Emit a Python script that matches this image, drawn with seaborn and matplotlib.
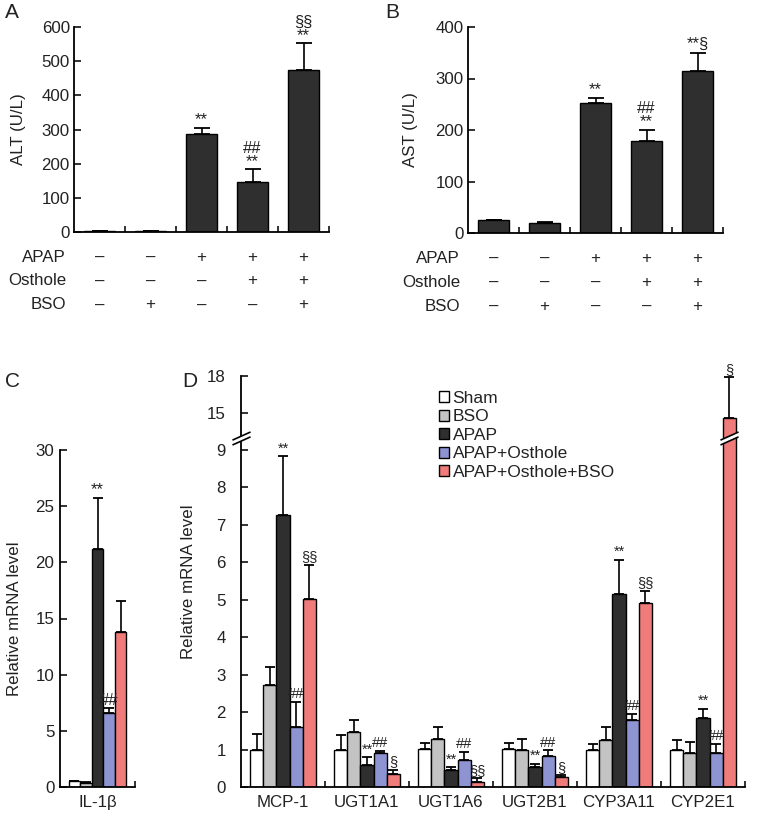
import numpy as np
import pandas as pd
import matplotlib
matplotlib.use("Agg")
import matplotlib.pyplot as plt
import seaborn as sns
from matplotlib.path import Path
from matplotlib.transforms import blended_transform_factory

# ---- data ----
groups = ["Sham", "BSO", "APAP", "APAP+Osthole", "APAP+Osthole+BSO"]
colors = ["#ffffff", "#c3c3c3", "#2f2f2f", "#8e93d2", "#ef7b7b"]

# A / B: serum ALT and AST
alt_mean = [2, 2, 288, 145, 475]
alt_err = [1, 1, 17, 38, 77]
alt_marks = ["", "", "**", "##\n**", "§§\n**"]
ast_mean = [25, 20, 252, 178, 315]
ast_err = [1, 2, 10, 22, 35]
ast_marks = ["", "", "**", "##\n**", "**§"]
apap_row = ["–", "–", "+", "+", "+"]
osthole_row = ["–", "–", "–", "+", "+"]
bso_row = ["–", "+", "–", "–", "+"]

# C: IL-1b
il1b_mean = [0.5, 0.4, 21.2, 6.6, 13.8]
il1b_err = [0.05, 0.05, 4.5, 0.4, 2.8]
il1b_marks = ["", "", "**", "##", ""]

# D: other genes
genes = ["MCP-1", "UGT1A1", "UGT1A6", "UGT2B1", "CYP3A11", "CYP2E1"]
sham = [1.0, 1.0, 1.02, 1.02, 1.0, 1.0]
sham_err = [0.41, 0.38, 0.15, 0.16, 0.16, 0.25]
bso = [2.72, 1.47, 1.27, 0.98, 1.25, 0.91]
bso_err = [0.47, 0.31, 0.32, 0.29, 0.35, 0.29]
apap = [7.26, 0.58, 0.45, 0.53, 5.14, 1.85]
apap_err = [1.56, 0.22, 0.08, 0.09, 0.92, 0.24]
ost = [1.6, 0.91, 0.72, 0.82, 1.78, 0.91]
ost_err = [0.67, 0.05, 0.21, 0.16, 0.18, 0.25]
combo = [5.01, 0.36, 0.14, 0.27, 4.92, 14.6]
combo_err = [0.91, 0.09, 0.09, 0.04, 0.32, 3.3]
apap_marks = ["**"] * 6
ost_marks = ["##"] * 6
combo_marks = ["§§", "§", "§§", "§", "§§", "§"]

sns.set_style("ticks")
plt.rcParams["font.family"] = ["Liberation Sans", "DejaVu Sans"]
plt.rcParams["font.size"] = 12.2
plt.rcParams["text.color"] = "#222222"
plt.rcParams["axes.labelcolor"] = "#222222"
plt.rcParams["xtick.color"] = "#222222"
plt.rcParams["ytick.color"] = "#222222"
plt.rcParams["axes.edgecolor"] = "black"
plt.rcParams["axes.linewidth"] = 1.3

W, H = 757, 814
fig = plt.figure(figsize=(W / 100, H / 100), dpi=100)


def px_axes(left, top, right, bottom):
    return fig.add_axes([left / W, 1 - bottom / H, (right - left) / W, (bottom - top) / H])


def style_axes(ax, n, ypad):
    sns.despine(ax=ax)
    ax.set_xlim(-0.5, n - 0.5)
    ax.set_xticks(np.arange(n) + 0.5, minor=True)
    ax.tick_params(axis="x", which="minor", direction="in", length=4, width=1.3)
    ax.tick_params(axis="x", which="major", length=0, pad=6)
    ax.tick_params(axis="y", direction="in", length=5, width=1.3, pad=ypad)
    ax.set_xlabel("")


def add_errors(ax, err_lists, mark_lists, cap, fs_mark=12):
    for cont, errs, marks in zip(ax.containers, err_lists, mark_lists):
        xs = [p.get_x() + p.get_width() / 2 for p in cont]
        hs = [p.get_height() for p in cont]
        ax.errorbar(xs, hs, yerr=[np.zeros(len(errs)), errs], fmt="none",
                    ecolor="black", elinewidth=1.2, capsize=cap, capthick=1.3, zorder=3)
        for x, h, e, t in zip(xs, hs, errs, marks):
            if t:
                ax.annotate(t, (x, h + e), xytext=(0, 0.5), textcoords="offset points",
                            ha="center", va="bottom", fontsize=fs_mark, linespacing=0.85)


def enzyme_panel(ax, means, errs, marks, ymax, ylabel, lpad):
    sns.barplot(x=groups, y=means, color="#2f2f2f", saturation=1, width=0.6,
                edgecolor="black", linewidth=1, errorbar=None, ax=ax)
    style_axes(ax, len(groups), 3)
    add_errors(ax, [errs], [marks], 6)
    ax.set_ylim(0, ymax)
    ax.set_yticks(np.arange(0, ymax + 1, 100))
    ax.set_xticklabels([])
    ax.set_ylabel(ylabel, labelpad=lpad)
    tr = blended_transform_factory(ax.transData, ax.transAxes)
    for row, name, yy in [(apap_row, "APAP", -0.122), (osthole_row, "Osthole", -0.239),
                          (bso_row, "BSO", -0.356)]:
        ax.text(-0.031, yy, name, transform=ax.transAxes, ha="right", va="center")
        for i, s in enumerate(row):
            ax.text(i, yy, s, transform=tr, ha="center", va="center")


# ---- A ----
axA = px_axes(74, 27, 329, 232)
enzyme_panel(axA, alt_mean, alt_err, alt_marks, 600, "ALT (U/L)", 11)
# ---- B ----
axB = px_axes(468, 27, 723, 233)
enzyme_panel(axB, ast_mean, ast_err, ast_marks, 400, "AST (U/L)", 13)

# ---- C ----
df_c = pd.DataFrame({"gene": ["IL-1β"] * len(groups), "group": groups, "value": il1b_mean})
axC = px_axes(60, 450, 135, 787)
sns.barplot(data=df_c, x="gene", y="value", hue="group", hue_order=groups,
            palette=dict(zip(groups, colors)), saturation=1, width=0.77, gap=0,
            edgecolor="black", linewidth=1, errorbar=None, legend=False, ax=axC)
style_axes(axC, 1, 4)
add_errors(axC, [[e] for e in il1b_err], [[m] for m in il1b_marks], 3.5)
axC.set_ylim(0, 30)
axC.set_yticks(np.arange(0, 31, 5))
axC.set_ylabel("Relative mRNA level", labelpad=10)

# ---- D ----
B0, B1, GAP, K = 9.25, 13.1, 0.1, 0.33


def fwd(y):
    y = np.asarray(y, float)
    return np.where(y <= B0, y,
                    np.where(y <= B1, B0 + (y - B0) * GAP / (B1 - B0), B0 + GAP + (y - B1) * K))


def inv(t):
    t = np.asarray(t, float)
    return np.where(t <= B0, t,
                    np.where(t <= B0 + GAP, B0 + (t - B0) * (B1 - B0) / GAP, B1 + (t - B0 - GAP) / K))


df_d = pd.DataFrame({
    "gene": genes * len(groups),
    "group": np.repeat(groups, len(genes)),
    "value": sham + bso + apap + ost + combo,
})
axD = px_axes(241, 376, 745, 787)
axD.set_yscale("function", functions=(fwd, inv))
sns.barplot(data=df_d, x="gene", y="value", hue="group", hue_order=groups,
            palette=dict(zip(groups, colors)), saturation=1, width=0.78, gap=0,
            edgecolor="black", linewidth=1, errorbar=None, ax=axD)
style_axes(axD, len(genes), 11)
add_errors(axD, [sham_err, bso_err, apap_err, ost_err, combo_err],
           [[""] * 6, [""] * 6, apap_marks, ost_marks, combo_marks], 3.5, fs_mark=10.5)
axD.set_ylim(0, 18)
axD.set_yticks(list(range(10)) + [15, 18])
axD.set_yticklabels([str(v) for v in list(range(10)) + [15, 18]])
axD.yaxis.set_minor_locator(matplotlib.ticker.NullLocator())
axD.set_ylabel("Relative mRNA level", labelpad=8)
axD.legend(loc="upper left", bbox_to_anchor=(0.375, 0.985), frameon=False,
           handlelength=0.6, handleheight=0.6, handletextpad=0.2,
           labelspacing=0.2, borderpad=0, fontsize=12.5)

# axis break marks
line_path = Path([(-1, -0.72), (1, 0.18), (-1, -0.18), (1, 0.72)],
                 [Path.MOVETO, Path.LINETO, Path.MOVETO, Path.LINETO])
fill_path = Path([(-1, -0.72), (1, 0.18), (1, 0.72), (-1, -0.18), (-1, -0.72)],
                 [Path.MOVETO, Path.LINETO, Path.LINETO, Path.LINETO, Path.CLOSEPOLY])
y_break = (B0 + B1) / 2
red = axD.containers[4][len(genes) - 1]
for x, trans in [(0, blended_transform_factory(axD.transAxes, axD.transData)),
                 (red.get_x() + red.get_width() / 2, axD.transData)]:
    axD.plot([x], [y_break], marker=fill_path, markersize=13, markerfacecolor="white",
             markeredgecolor="white", markeredgewidth=0.5, transform=trans, clip_on=False, zorder=5)
    axD.plot([x], [y_break], marker=line_path, markersize=13, markerfacecolor="none",
             markeredgecolor="black", markeredgewidth=1.2, transform=trans, clip_on=False, zorder=6)

# panel letters
for lab, x, y in [("A", 5, 3), ("B", 385, 3), ("C", 5, 372), ("D", 182, 372)]:
    fig.text(x / W, 1 - y / H, lab, fontsize=15, va="top", ha="left")

fig.savefig("out.png", dpi=100)
